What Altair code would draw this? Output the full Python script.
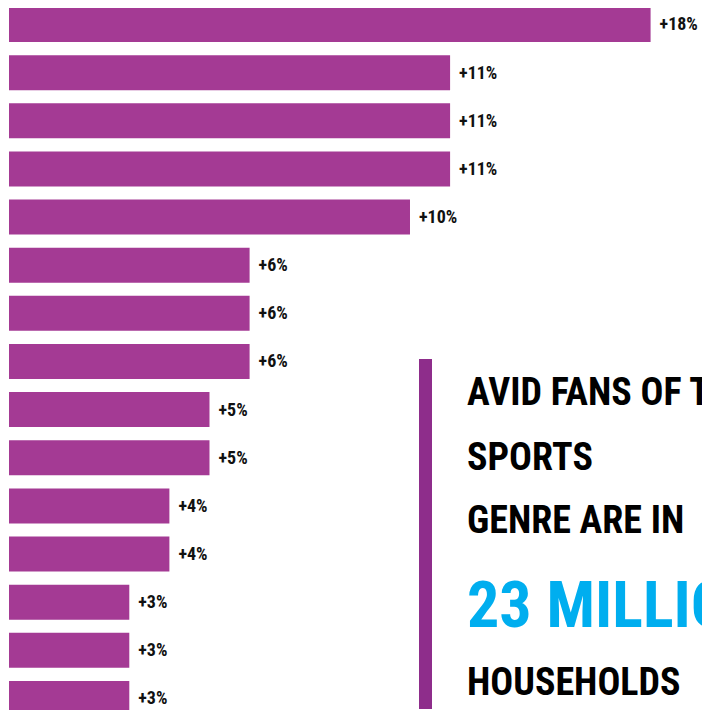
import altair as alt
import pandas as pd

# bar lengths as drawn in the picture, and the labels printed beside them
bar_lengths = [16, 11, 11, 11, 10, 6, 6, 6, 5, 5, 4, 4, 3, 3, 3]
bar_labels = ["+18%", "+11%", "+11%", "+11%", "+10%", "+6%", "+6%", "+6%",
              "+5%", "+5%", "+4%", "+4%", "+3%", "+3%", "+3%"]
rank = list(range(1, len(bar_lengths) + 1))

note_lines = ["AVID FANS OF THE", "SPORTS", "GENRE ARE IN", "23 MILLION", "HOUSEHOLDS"]

FONT = "Roboto Condensed, Noto Sans CJK SC, Roboto, sans-serif"
BAR = "#A43A94"
RULE = "#8E2D8B"
BLUE = "#00AEEF"

df = pd.DataFrame({"rank": rank, "value": bar_lengths, "label": bar_labels})

W, H = 694, 702
HALF = 0.3635  # half bar thickness in rank units

y_scale = alt.Scale(domain=[0.6573, 15.2398], reverse=True, nice=False, zero=False)
x_scale = alt.Scale(domain=[0, 17.307], nice=False, zero=True)

base = alt.Chart(df).transform_calculate(
    top=f"datum.rank - {HALF}", bottom=f"datum.rank + {HALF}", zero="0")

bars = base.mark_rect(color=BAR, clip=True, xOffset=1, x2Offset=1).encode(
    x=alt.X("zero:Q", axis=None, scale=x_scale),
    x2="value:Q",
    y=alt.Y("top:Q", axis=None, scale=y_scale),
    y2="bottom:Q")

labels = alt.Chart(df).mark_text(align="left", baseline="middle", dx=10, dy=1, fontSize=18,
                                 fontWeight="bold", font=FONT, color="#111111").encode(
    x=alt.X("value:Q", axis=None, scale=x_scale),
    y=alt.Y("rank:Q", axis=None, scale=y_scale),
    text="label:N")

rule = alt.Chart(pd.DataFrame({"a": [0]})).mark_rule(color=RULE, strokeWidth=13, clip=True).encode(
    x=alt.value(417.5), y=alt.value(351), y2=alt.value(701))

def note(i, y, size, color):
    return alt.Chart(pd.DataFrame({"t": [note_lines[i]]})).mark_text(
        align="left", baseline="alphabetic", font=FONT, fontWeight="bold",
        fontSize=size, color=color, clip=True).encode(
        x=alt.value(459), y=alt.value(y), text="t:N")

notes = [note(0, 397, 38, "#000000"), note(1, 462, 38, "#000000"),
         note(2, 525, 38, "#000000"), note(3, 619, 64, BLUE),
         note(4, 687, 38, "#000000")]

chart = alt.layer(bars, labels, rule, *notes).properties(
    width=W, height=H, padding=0,
    autosize=alt.AutoSizeParams(type="none")
).configure_view(stroke=None)

chart.save("out.html", embed_options={"renderer": "svg", "actions": False})
